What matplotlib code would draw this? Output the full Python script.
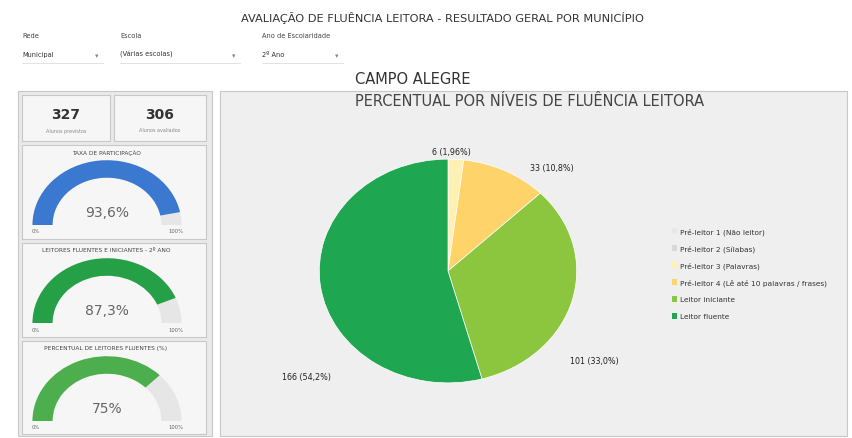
import matplotlib.pyplot as plt
from matplotlib.patches import Wedge, Rectangle

W, H = 852, 439

# data
niveis = ['Pré-leitor 1 (Não leitor)', 'Pré-leitor 2 (Sílabas)', 'Pré-leitor 3 (Palavras)',
          'Pré-leitor 4 (Lê até 10 palavras / frases)', 'Leitor iniciante', 'Leitor fluente']
cores_niveis = ['#e8e8e8', '#d9d9d9', '#fff0b3', '#fdd36a', '#8cc63f', '#1ea650']
alunos = [0, 0, 6, 33, 101, 166]
rotulos = ['', '', '6 (1,96%)', '33 (10,8%)', '101 (33,0%)', '166 (54,2%)']

previstos = 327
avaliados = 306
gauge_titulos = ['TAXA DE PARTICIPAÇÃO', 'LEITORES FLUENTES E INICIANTES - 2º ANO',
                 'PERCENTUAL DE LEITORES FLUENTES (%)']
gauge_valores = [93.6, 87.3, 75.0]
gauge_textos = ['93,6%', '87,3%', '75%']
gauge_cores = ['#3b78cf', '#25a046', '#4cae4c']


def rect(x0, y0, x1, y1):
    return [x0 / W, 1 - y1 / H, (x1 - x0) / W, (y1 - y0) / H]


def fxy(x, y):
    return x / W, 1 - y / H


fig = plt.figure(figsize=(W / 100, H / 100), dpi=100)
fig.patch.set_facecolor('white')


# panels (behind the axes)
def panel(x0, y0, x1, y1, fc='#f3f3f3', ec='#c8c8c8'):
    fig.patches.append(Rectangle(fxy(x0, y1), (x1 - x0) / W, (y1 - y0) / H,
                                 transform=fig.transFigure, fc=fc, ec=ec, lw=0.8, zorder=-5))

panel(18, 92, 212, 437, fc='#e9e9e9')
panel(220, 92, 847, 437, fc='#efefef')
panel(22, 96, 110, 142, fc='#f6f6f6')
panel(114, 96, 206, 142, fc='#f6f6f6')
for y0, y1 in [(146, 240), (244, 338), (342, 435)]:
    panel(22, y0, 206, y1, fc='#f6f6f6')

# header
fig.text(*fxy(442, 18), 'AVALIAÇÃO DE FLUÊNCIA LEITORA - RESULTADO GERAL POR MUNICÍPIO',
         ha='center', va='center', fontsize=8.2, color='#333333')
filtros = [('Rede', 'Municipal', 22, 95), ('Escola', '(Várias escolas)', 120, 232),
           ('Ano de Escolaridade', '2º Ano', 262, 335)]
for rot, val, x, xa in filtros:
    fig.text(*fxy(x, 36), rot, fontsize=4.8, color='#444444', va='center')
    fig.text(*fxy(x, 55), val, fontsize=4.8, color='#333333', va='center')
    fig.text(*fxy(xa, 56), '▾', fontsize=5, color='#888888', va='center')
    fig.add_artist(plt.Line2D([x / W, (xa + 8) / W], [1 - 64 / H] * 2, color='#dddddd', lw=0.6))

fig.text(*fxy(355, 80), 'CAMPO ALEGRE', fontsize=10.5, color='#333333', va='center')
fig.text(*fxy(355, 101), 'PERCENTUAL POR NÍVEIS DE FLUÊNCIA LEITORA', fontsize=10.5,
         color='#444444', va='center')

# cards
fig.text(*fxy(66, 115), str(previstos), fontsize=10, fontweight='bold', ha='center', va='center', color='#333333')
fig.text(*fxy(66, 131), 'Alunos previstos', fontsize=3.5, ha='center', va='center', color='#888888')
fig.text(*fxy(160, 115), str(avaliados), fontsize=10, fontweight='bold', ha='center', va='center', color='#333333')
fig.text(*fxy(160, 131), 'Alunos avaliados', fontsize=3.5, ha='center', va='center', color='#888888')

# gauges
tops = [146, 244, 342]
for i, top in enumerate(tops):
    fig.text(*fxy(106, top + 7), gauge_titulos[i], fontsize=4.2, ha='center', va='center', color='#444444')
    ax = fig.add_axes(rect(28, top + 12, 186, top + 80))
    ax.set_xlim(-1.06, 1.06)
    ax.set_ylim(0, 1.05)
    ax.set_aspect('auto')
    ax.axis('off')
    ax.add_patch(Wedge((0, 0), 1.0, 0, 180, width=0.27, fc='#e6e6e6', ec='none'))
    ang = 180 - 180 * gauge_valores[i] / 100
    ax.add_patch(Wedge((0, 0), 1.0, ang, 180, width=0.27, fc=gauge_cores[i], ec='none'))
    ax.text(0, 0.2, gauge_textos[i], fontsize=10, ha='center', va='center', color='#666666')
    fig.text(*fxy(36, top + 86), '0%', fontsize=3.8, ha='center', va='center', color='#666666')
    fig.text(*fxy(176, top + 86), '100%', fontsize=3.8, ha='center', va='center', color='#666666')

# pie (small slice at the top, then clockwise)
axp = fig.add_axes(rect(318, 159, 578, 385))
axp.patch.set_visible(False)
vals = [v for v in alunos if v > 0]
cols = [c for v, c in zip(alunos, cores_niveis) if v > 0]
axp.pie(vals, colors=cols, startangle=90, counterclock=False,
        wedgeprops=dict(ec='white', lw=0.5))
axp.set_aspect('auto')
axp.set_xlim(-1.01, 1.01)
axp.set_ylim(-1.01, 1.01)
pos_rotulos = [(432, 152), (530, 168), (570, 362), (282, 378)]
for (x, y), t in zip(pos_rotulos, [r for r in rotulos if r]):
    fig.text(*fxy(x, y), t, fontsize=5.8, color='#222222', va='center')

# legend
for i, (n, c) in enumerate(zip(niveis, cores_niveis)):
    y = 232 + i * 17
    fig.patches.append(Rectangle(fxy(672, y + 3), 5 / W, 6 / H, transform=fig.transFigure,
                                 fc=c, ec='none'))
    fig.text(*fxy(680, y), n, fontsize=5.3, color='#333333', va='center')

fig.savefig('out.png', dpi=100, facecolor=fig.get_facecolor())
